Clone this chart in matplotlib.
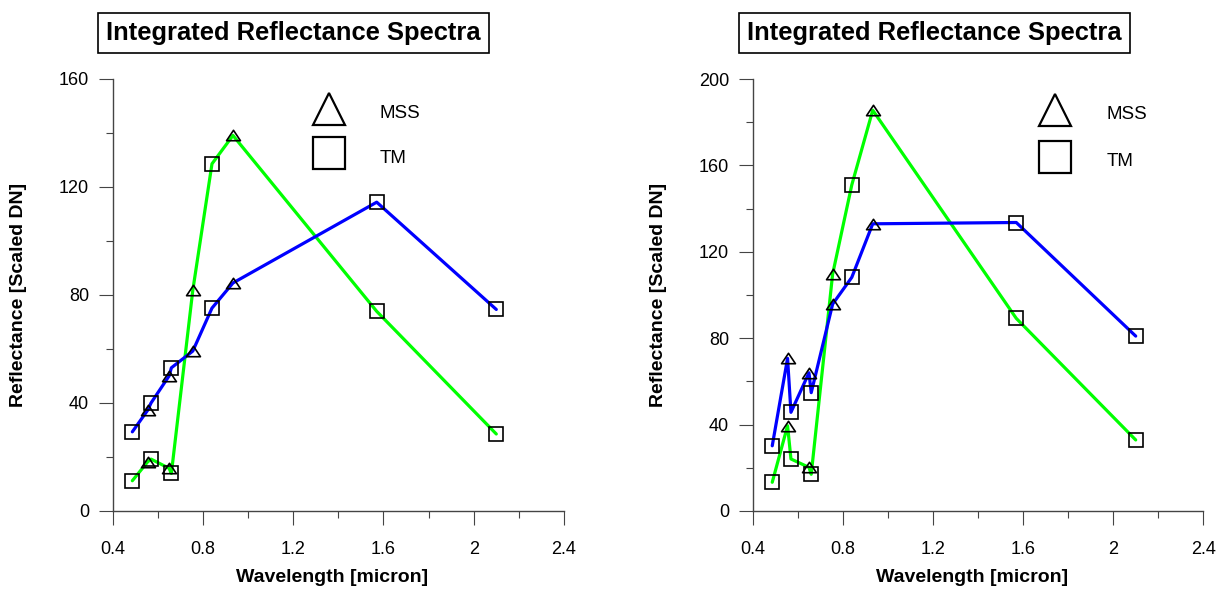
import matplotlib
matplotlib.use("Agg")
import matplotlib.pyplot as plt
from matplotlib.lines import Line2D
from matplotlib.path import Path
from matplotlib.ticker import MultipleLocator

plt.rcParams['font.family'] = ['Liberation Sans', 'DejaVu Sans']

# band centres (micron) shared by both panels, and which sensor each band is from
wavelength = [0.487, 0.555, 0.57, 0.65, 0.66, 0.755, 0.84, 0.933, 1.57, 2.10]
sensor = ['TM', 'MSS', 'TM', 'MSS', 'TM', 'MSS', 'TM', 'MSS', 'TM', 'TM']

# left panel
left_green = [11.2, 18.2, 19.2, 15.8, 13.9, 81.7, 128.5, 139.0, 73.9, 28.5]
left_blue = [29.3, 37.3, 40.0, 50.0, 53.0, 59.2, 75.1, 84.4, 114.3, 74.6]

# right panel
right_green = [13.3, 39.5, 24.1, 20.2, 17.0, 109.7, 151.0, 185.6, 89.2, 32.9]
right_blue = [30.2, 70.7, 45.7, 64.0, 54.8, 95.8, 108.2, 133.0, 133.6, 81.0]

title = 'Integrated Reflectance Spectra'

# flattened triangle used on the curves
tri = Path([(0, 0.75), (-1, -0.75), (1, -0.75), (0, 0.75)], closed=True)
marker_of = {'MSS': tri, 'TM': 's'}


def draw_panel(ax, series, ymax, legend_xy, spacing):
    for vals, col in series:
        ax.plot(wavelength, vals, color=col, lw=2.3, zorder=2,
                solid_joinstyle='round', solid_capstyle='round')
    for vals, col in series:
        for kind in ('MSS', 'TM'):
            xs = [w for w, s in zip(wavelength, sensor) if s == kind]
            ys = [v for v, s in zip(vals, sensor) if s == kind]
            ax.plot(xs, ys, ls='none', marker=marker_of[kind], ms=10,
                    mfc='none', mec='black', mew=1.2, zorder=3)

    ax.set_xlim(0.4, 2.4)
    ax.set_ylim(0, ymax)
    ax.xaxis.set_major_locator(MultipleLocator(0.4))
    ax.xaxis.set_minor_locator(MultipleLocator(0.2))
    ax.yaxis.set_major_locator(MultipleLocator(40))
    ax.yaxis.set_minor_locator(MultipleLocator(20))
    ax.xaxis.set_major_formatter(plt.FuncFormatter(lambda v, p: '%g' % round(v, 1)))

    for side in ('top', 'right'):
        ax.spines[side].set_visible(False)
    for side in ('left', 'bottom'):
        ax.spines[side].set_color('#444444')
        ax.spines[side].set_linewidth(1.0)
    ax.tick_params(which='major', direction='out', length=10, width=0.8,
                   color='#444444', labelsize=13)
    ax.tick_params(which='minor', direction='out', length=5, width=0.8,
                   color='#444444')
    ax.tick_params(axis='x', which='major', pad=11.5)
    ax.tick_params(axis='y', which='major', pad=7)

    ax.set_xlabel('Wavelength [micron]', fontsize=14, fontweight='bold')
    ax.set_ylabel('Reflectance [Scaled DN]', fontsize=14, fontweight='bold')
    ax.xaxis.set_label_coords(0.486, -0.134)
    ax.yaxis.set_label_coords(-0.19, 0.5)

    handles = [
        Line2D([], [], ls='none', marker='^', ms=23, mfc='none', mec='black', mew=1.6),
        Line2D([], [], ls='none', marker='s', ms=23, mfc='none', mec='black', mew=1.6),
    ]
    ax.legend(handles, ['MSS', 'TM'], loc='upper left', bbox_to_anchor=legend_xy,
              frameon=False, fontsize=13.5, borderpad=0, borderaxespad=0,
              handlelength=1.75, handleheight=1.75, handletextpad=1.85,
              labelspacing=spacing)


fig = plt.figure(figsize=(12.29, 5.90), dpi=100)
ax1 = fig.add_axes([0.0917, 0.1339, 0.3672, 0.7327])
ax2 = fig.add_axes([0.6124, 0.1339, 0.3667, 0.7320])

draw_panel(ax1, [(left_green, '#00ff00'), (left_blue, '#0000ff')], 160, (0.442, 0.953), 1.0)
draw_panel(ax2, [(right_green, '#00ff00'), (right_blue, '#0000ff')], 200, (0.635, 0.951), 1.13)

box = dict(boxstyle='square,pad=0.33', fc='white', ec='black', lw=1.2)
fig.text(0.2388, 0.944, title, ha='center', va='center', fontsize=18.4,
         fontweight='bold', bbox=box)
fig.text(0.7604, 0.944, title, ha='center', va='center', fontsize=18.4,
         fontweight='bold', bbox=box)

fig.savefig('out.png', dpi=100)
